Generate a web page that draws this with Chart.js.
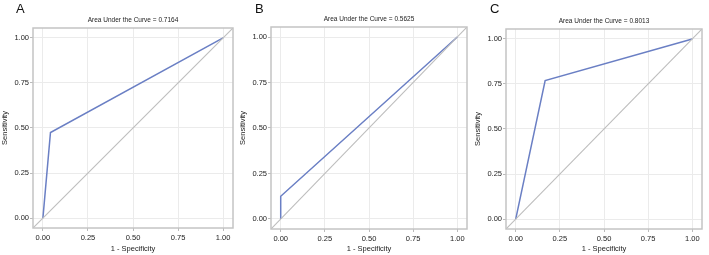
<!DOCTYPE html>
<html><head><meta charset="utf-8">
<script src="https://cdn.jsdelivr.net/npm/chart.js@4/dist/chart.umd.min.js"></script>
<style>
html,body{margin:0;padding:0;background:#fff;}
#wrap{position:relative;width:709px;height:255px;overflow:hidden;}
canvas{position:absolute;top:0;}
.lab{position:absolute;top:1px;font-family:"Liberation Sans",Arial,sans-serif;font-size:13px;color:#111;}
</style></head>
<body><div id="wrap">
<canvas id="cA" width="236" height="255" style="left:0px"></canvas>
<canvas id="cB" width="236" height="255" style="left:238px"></canvas>
<canvas id="cC" width="236" height="255" style="left:473px"></canvas>
<div class="lab" style="left:16px">A</div>
<div class="lab" style="left:255px">B</div>
<div class="lab" style="left:490px">C</div>
</div>
<script>
// Data
const tickValues = [0, 0.25, 0.5, 0.75, 1];
const tickLabels = ['0.00', '0.25', '0.50', '0.75', '1.00'];
const panelTitles = ['Area Under the Curve = 0.7164', 'Area Under the Curve = 0.5625', 'Area Under the Curve = 0.8013'];
const rocA_fpr = [0, 0.042, 1];
const rocA_tpr = [0, 0.475, 1];
const rocB_fpr = [0, 0, 1];
const rocB_tpr = [0, 0.125, 1];
const rocC_fpr = [0, 0.1667, 1];
const rocC_tpr = [0, 0.7692, 1];
const axisMin = -0.055, axisMax = 1.055;
const refLine = [axisMin, axisMax];

const FONT = '"Liberation Sans", Arial, sans-serif';
const frame = {
  id: 'frame',
  afterDatasetsDraw(chart) {
    const a = chart.chartArea, ctx = chart.ctx;
    ctx.save();
    ctx.strokeStyle = '#c4c4c4';
    ctx.lineWidth = 1.5;
    ctx.strokeRect(a.left, a.top, a.right - a.left, a.bottom - a.top);
    ctx.restore();
  }
};

function pts(xs, ys) { return xs.map((x, i) => ({x: x, y: ys[i]})); }

function makeChart(id, title, fpr, tpr, lay) {
  const tickCfg = {
    font: {family: FONT, size: 7.5}, color: '#222', padding: 2,
    callback: (v) => { const i = tickValues.indexOf(v); return i >= 0 ? tickLabels[i] : ''; }
  };
  const gridCfg = {color: '#ebebeb', drawTicks: true, tickLength: 3, tickColor: '#bbbbbb'};
  new Chart(document.getElementById(id), {
    type: 'scatter',
    data: {
      datasets: [
        {data: pts(refLine, refLine), showLine: true, borderColor: '#bdbdbd', borderWidth: 1.1, pointRadius: 0},
        {data: pts(fpr, tpr), showLine: true, borderColor: '#6a7fc4', borderWidth: 1.5, pointRadius: 0}
      ]
    },
    options: {
      responsive: false, animation: false, devicePixelRatio: 1,
      layout: {padding: {left: 0, right: lay.right, top: 0, bottom: 0}},
      plugins: {
        legend: {display: false}, tooltip: {enabled: false},
        title: {display: true, text: title, color: '#222', fullSize: false,
          font: {family: FONT, size: 6.5, weight: 'normal'},
          padding: {top: lay.titleTop, bottom: lay.titleBottom}}
      },
      scales: {
        x: {
          type: 'linear', min: axisMin, max: axisMax,
          afterBuildTicks: (s) => { s.ticks = tickValues.map(v => ({value: v})); },
          afterFit: (s) => { s.height = lay.xh; },
          grid: gridCfg, border: {display: false},
          ticks: tickCfg,
          title: {display: true, text: '1 - Specificity', color: '#222', font: {family: FONT, size: 7.5}, padding: {top: 0, bottom: 2}}
        },
        y: {
          type: 'linear', min: axisMin, max: axisMax,
          afterBuildTicks: (s) => { s.ticks = tickValues.map(v => ({value: v})); },
          afterFit: (s) => { s.width = 33; },
          grid: gridCfg, border: {display: false},
          ticks: Object.assign({}, tickCfg, {padding: 1}),
          title: {display: true, text: 'Sensitivity', color: '#222', font: {family: FONT, size: 7.5}, padding: {top: 0, bottom: 0}}
        }
      }
    },
    plugins: [frame]
  });
}

makeChart('cA', panelTitles[0], rocA_fpr, rocA_tpr, {right: 3, titleTop: 16.5, titleBottom: 3.7, xh: 27});
makeChart('cB', panelTitles[1], rocB_fpr, rocB_tpr, {right: 7, titleTop: 15.5, titleBottom: 3.7, xh: 26});
makeChart('cC', panelTitles[2], rocC_fpr, rocC_tpr, {right: 7, titleTop: 17.5, titleBottom: 3.7, xh: 26});
</script>
</body></html>
